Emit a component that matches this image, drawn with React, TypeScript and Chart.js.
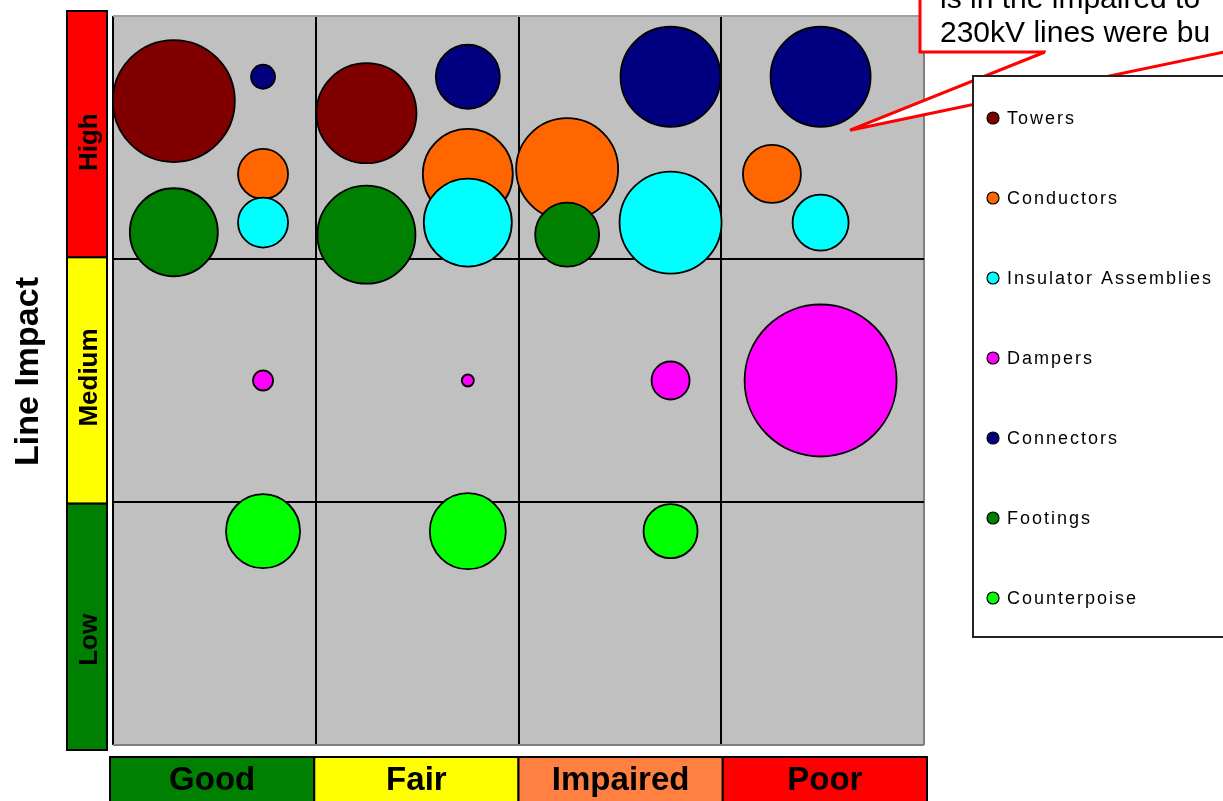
import React, { useEffect, useRef } from 'react';
import { Chart, registerables } from 'chart.js';

Chart.register(...registerables);

// ---- Category labels ----
const CONDITIONS = ['Good', 'Fair', 'Impaired', 'Poor'];
const CONDITION_COLORS = ['#008000', '#FFFF00', '#FF8040', '#FF0000'];
const IMPACTS = ['High', 'Medium', 'Low'];
const IMPACT_COLORS = ['#FF0000', '#FFFF00', '#008000'];
const AXIS_TITLE = 'Line Impact';
const CALLOUT_LINES = ['is in the impaired to', '230kV lines were bu'];

// ---- Series ----
const SERIES_NAMES = ['Towers', 'Conductors', 'Insulator Assemblies', 'Dampers', 'Connectors', 'Footings', 'Counterpoise'];
const SERIES_COLORS = ['#800000', '#FF6600', '#00FFFF', '#FF00FF', '#000080', '#008000', '#00FF00'];

// x: condition (0..4), y: impact (0..3), size: bubble radius
const TOWERS_X = [0.30, 1.25];
const TOWERS_Y = [2.65, 2.60];
const TOWERS_SIZE = [61, 50];

const CONDUCTORS_X = [0.74, 1.75, 2.24, 3.25];
const CONDUCTORS_Y = [2.35, 2.35, 2.37, 2.35];
const CONDUCTORS_SIZE = [25, 45, 51, 29];

const INSULATOR_X = [0.74, 1.75, 2.75, 3.49];
const INSULATOR_Y = [2.15, 2.15, 2.15, 2.15];
const INSULATOR_SIZE = [25, 44, 51, 28];

const DAMPERS_X = [0.74, 1.75, 2.75, 3.49];
const DAMPERS_Y = [1.50, 1.50, 1.50, 1.50];
const DAMPERS_SIZE = [10, 6, 19, 76];

const CONNECTORS_X = [0.74, 1.75, 2.75, 3.49];
const CONNECTORS_Y = [2.75, 2.75, 2.75, 2.75];
const CONNECTORS_SIZE = [12, 32, 50, 50];

const FOOTINGS_X = [0.30, 1.25, 2.24];
const FOOTINGS_Y = [2.11, 2.10, 2.10];
const FOOTINGS_SIZE = [44, 49, 32];

const COUNTERPOISE_X = [0.74, 1.75, 2.75];
const COUNTERPOISE_Y = [0.88, 0.88, 0.88];
const COUNTERPOISE_SIZE = [37, 38, 27];

const SERIES_X = [TOWERS_X, CONDUCTORS_X, INSULATOR_X, DAMPERS_X, CONNECTORS_X, FOOTINGS_X, COUNTERPOISE_X];
const SERIES_Y = [TOWERS_Y, CONDUCTORS_Y, INSULATOR_Y, DAMPERS_Y, CONNECTORS_Y, FOOTINGS_Y, COUNTERPOISE_Y];
const SERIES_SIZE = [TOWERS_SIZE, CONDUCTORS_SIZE, INSULATOR_SIZE, DAMPERS_SIZE, CONNECTORS_SIZE, FOOTINGS_SIZE, COUNTERPOISE_SIZE];

// callout tip in data coordinates
const CALLOUT_TIP = { x: 3.635, y: 2.53 };

const FONT = '"Liberation Sans", Arial, Helvetica, sans-serif';

const decorPlugin = {
  id: 'decor',
  beforeDraw(chart: any) {
    const { ctx, chartArea: a } = chart;
    ctx.save();
    ctx.fillStyle = '#FFFFFF';
    ctx.fillRect(0, 0, chart.width, chart.height);
    ctx.fillStyle = '#C0C0C0';
    ctx.fillRect(a.left, a.top, a.right - a.left, a.bottom - a.top);
    ctx.restore();
  },
  afterDraw(chart: any) {
    const { ctx, chartArea: a, scales } = chart;
    ctx.save();

    // ---- left impact band ----
    const bx = 67, bw = 40;
    const bTop = a.top - 5, bBot = a.bottom + 5;
    const bh = (bBot - bTop) / IMPACTS.length;
    const leftShift = [8, -3, 13];
    IMPACTS.forEach((lab, i) => {
      const y0 = bTop + i * bh;
      ctx.fillStyle = IMPACT_COLORS[i];
      ctx.fillRect(bx, y0, bw, bh);
      ctx.strokeStyle = '#000';
      ctx.lineWidth = 2;
      ctx.strokeRect(bx, y0, bw, bh);
      ctx.save();
      ctx.translate(97, y0 + bh / 2 + leftShift[i]);
      ctx.rotate(-Math.PI / 2);
      ctx.fillStyle = '#000';
      ctx.font = `bold 26px ${FONT}`;
      ctx.textAlign = 'center';
      ctx.textBaseline = 'alphabetic';
      ctx.fillText(lab, 0, 0);
      ctx.restore();
    });

    // ---- bottom condition band ----
    const cx0 = a.left - 3, cx1 = a.right + 3;
    const cy0 = a.bottom + 12;
    const cw = (cx1 - cx0) / CONDITIONS.length;
    CONDITIONS.forEach((lab, i) => {
      const x0 = cx0 + i * cw;
      ctx.fillStyle = CONDITION_COLORS[i];
      ctx.fillRect(x0, cy0, cw, 60);
      ctx.strokeStyle = '#000';
      ctx.lineWidth = 2;
      ctx.strokeRect(x0, cy0, cw, 60);
      ctx.fillStyle = '#000';
      ctx.font = `bold 33px ${FONT}`;
      ctx.textAlign = 'center';
      ctx.textBaseline = 'alphabetic';
      ctx.fillText(lab, x0 + cw / 2, cy0 + 33);
    });

    // ---- axis title ----
    ctx.save();
    ctx.translate(38, (a.top + a.bottom) / 2 - 9);
    ctx.rotate(-Math.PI / 2);
    ctx.fillStyle = '#000';
    ctx.font = `bold 34px ${FONT}`;
    ctx.textAlign = 'center';
    ctx.fillText(AXIS_TITLE, 0, 0);
    ctx.restore();

    // ---- callout ----
    const tipX = scales.x.getPixelForValue(CALLOUT_TIP.x);
    const tipY = scales.y.getPixelForValue(CALLOUT_TIP.y);
    const boxL = 920, boxB = 52;
    ctx.fillStyle = '#FFFFFF';
    ctx.fillRect(boxL, -20, 400, boxB + 20);
    ctx.strokeStyle = '#FF0000';
    ctx.lineWidth = 3;
    ctx.strokeRect(boxL, -20, 400, boxB + 20);
    const p1 = { x: 1045, y: boxB }, p2 = { x: 1224, y: boxB };
    ctx.beginPath();
    ctx.moveTo(p1.x, p1.y);
    ctx.lineTo(tipX, tipY);
    ctx.lineTo(p2.x, p2.y);
    ctx.closePath();
    ctx.fillStyle = '#FFFFFF';
    ctx.fill();
    ctx.fillRect(p1.x + 1, boxB - 3, p2.x - p1.x + 10, 5);
    ctx.beginPath();
    ctx.moveTo(p1.x, p1.y);
    ctx.lineTo(tipX, tipY);
    ctx.lineTo(p2.x, p2.y);
    ctx.strokeStyle = '#FF0000';
    ctx.lineWidth = 3;
    ctx.lineJoin = 'miter';
    ctx.stroke();
    ctx.fillStyle = '#000';
    ctx.font = `30px ${FONT}`;
    ctx.textAlign = 'left';
    ctx.textBaseline = 'alphabetic';
    ctx.fillText(CALLOUT_LINES[0], 940, 8);
    ctx.fillText(CALLOUT_LINES[1], 940, 42);

    // ---- legend ----
    const lx = 973, ly = 76, lb = 637;
    ctx.fillStyle = '#FFFFFF';
    ctx.fillRect(lx, ly, 300, lb - ly);
    ctx.strokeStyle = '#222';
    ctx.lineWidth = 2;
    ctx.strokeRect(lx, ly, 300, lb - ly);
    ctx.font = `18px ${FONT}`;
    (ctx as any).letterSpacing = '2px';
    ctx.textBaseline = 'middle';
    chart.data.datasets.forEach((ds: any, i: number) => {
      const y = 118 + i * 80;
      ctx.beginPath();
      ctx.arc(993, y, 6, 0, Math.PI * 2);
      ctx.fillStyle = ds.backgroundColor;
      ctx.fill();
      ctx.strokeStyle = '#000';
      ctx.lineWidth = 1.2;
      ctx.stroke();
      ctx.fillStyle = '#000';
      ctx.fillText(ds.label, 1007, y + 1);
    });
    (ctx as any).letterSpacing = '0px';

    ctx.restore();
  },
};

export default function App() {
  const ref = useRef<HTMLCanvasElement | null>(null);

  useEffect(() => {
    if (!ref.current) return;
    const n = SERIES_NAMES.length;
    const datasets = SERIES_NAMES.map((name, i) => ({
      label: name,
      data: SERIES_X[i].map((x, j) => ({ x, y: SERIES_Y[i][j], r: SERIES_SIZE[i][j] })),
      backgroundColor: SERIES_COLORS[i],
      borderColor: '#000000',
      borderWidth: 1.8,
      order: n - 1 - i,
    }));

    const edgeColor = (edges: Record<number, string>) => (c: any) =>
      c.tick && edges[c.tick.value] !== undefined ? edges[c.tick.value] : '#000000';

    const chart = new Chart(ref.current, {
      type: 'bubble',
      data: { datasets },
      options: {
        responsive: false,
        animation: false,
        events: [],
        layout: { autoPadding: false, padding: { left: 113, top: 16, right: 299, bottom: 56 } },
        plugins: {
          legend: { display: false },
          tooltip: { enabled: false },
          title: { display: false },
        },
        scales: {
          x: {
            type: 'linear',
            min: 0,
            max: CONDITIONS.length,
            ticks: { display: false, stepSize: 1 },
            border: { display: false },
            grid: {
              drawTicks: false,
              color: edgeColor({ 0: '#000000', 4: '#808080' }),
              lineWidth: 2,
            },
          },
          y: {
            type: 'linear',
            min: 0,
            max: IMPACTS.length,
            ticks: { display: false, stepSize: 1 },
            border: { display: false },
            grid: {
              drawTicks: false,
              color: edgeColor({ 0: '#808080', 3: '#A0A0A0' }),
              lineWidth: 2,
            },
          },
        },
      },
      plugins: [decorPlugin],
    } as any);

    return () => chart.destroy();
  }, []);

  return (
    <div style={{ position: 'fixed', left: 0, top: 0, width: 1223, height: 801, background: '#fff', overflow: 'hidden' }}>
      <canvas ref={ref} width={1223} height={801} style={{ display: 'block', width: 1223, height: 801 }} />
    </div>
  );
}
